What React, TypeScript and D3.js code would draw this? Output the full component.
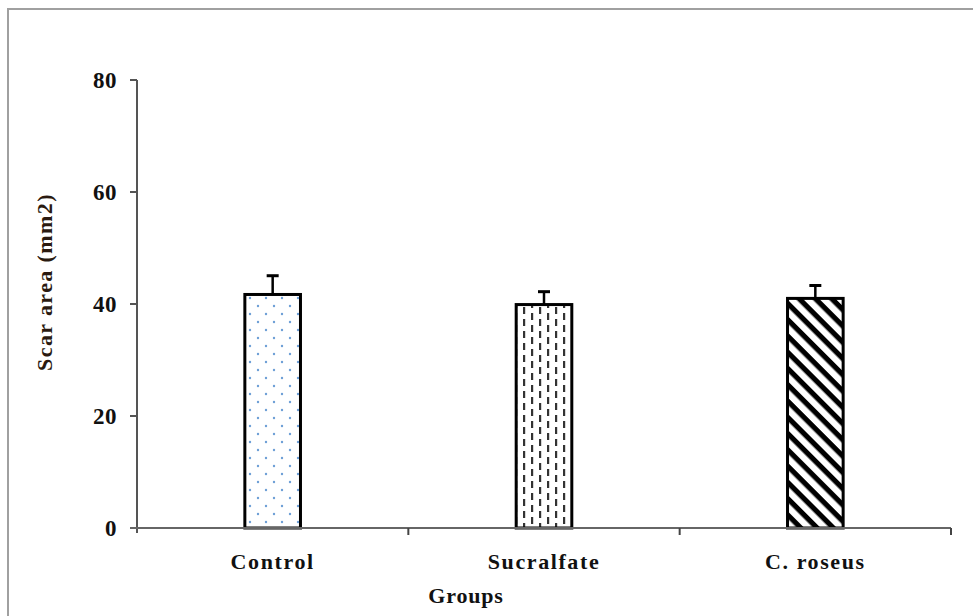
import React from "react";
import * as d3 from "d3";

const categories = ["Control", "Sucralfate", "C. roseus"];
const means = [41.7, 39.9, 41.0];
const errors = [3.35, 2.3, 2.3];
const yTicks = [0, 20, 40, 60, 80];

const W = 973;
const H = 616;
const margin = { left: 137, right: 22, top: 80, bottom: 88 };

export default function App() {
  const x = d3
    .scaleBand<string>()
    .domain(categories)
    .range([margin.left, W - margin.right])
    .paddingInner(0.795)
    .paddingOuter(0.3975);
  const y = d3.scaleLinear().domain([0, 80]).range([H - margin.bottom, margin.top]);
  const x0 = margin.left;
  const x1 = W - margin.right;
  const y0 = y(0);
  const patterns = ["url(#pDots)", "url(#pDash)", "url(#pDiag)"];
  const font = "'Liberation Serif', 'Times New Roman', serif";
  const bandStep = (x1 - x0) / categories.length;

  return (
    <svg
      width={W}
      height={H}
      style={{ position: "absolute", left: 0, top: 0, background: "#fff" }}
      fontFamily={font}
    >
      <defs>
        <pattern id="pDots" width={16} height={16} patternUnits="userSpaceOnUse">
          <rect width={16} height={16} fill="#fff" />
          <circle cx={2} cy={2} r={1.2} fill="#6d9fd6" />
          <circle cx={10} cy={10} r={1.2} fill="#6d9fd6" />
        </pattern>
        <pattern id="pDash" width={16} height={12} patternUnits="userSpaceOnUse">
          <rect width={16} height={12} fill="#fff" />
          <rect x={3} y={1} width={2.2} height={7} fill="#333" />
          <rect x={11} y={7} width={2.2} height={7} fill="#333" />
          <rect x={11} y={-5} width={2.2} height={7} fill="#333" />
        </pattern>
        <pattern
          id="pDiag"
          width={11.5}
          height={11.5}
          patternUnits="userSpaceOnUse"
          patternTransform="rotate(45)"
        >
          <rect width={11.5} height={11.5} fill="#fff" />
          <rect x={0} y={0} width={11.5} height={5.2} fill="#000" />
        </pattern>
      </defs>

      {/* frame */}
      <rect x={8} y={9} width={W + 10} height={H + 10} fill="none" stroke="#a0a0a0" strokeWidth={2} />

      {/* bars */}
      {categories.map((c, i) => {
        const bx = x(c)!;
        const bw = x.bandwidth();
        const top = y(means[i]);
        const cx = bx + bw / 2;
        const ey = y(means[i] + errors[i]);
        return (
          <g key={c}>
            <line x1={cx} x2={cx} y1={top} y2={ey} stroke="#000" strokeWidth={2.5} />
            <line x1={cx - 6} x2={cx + 6} y1={ey} y2={ey} stroke="#000" strokeWidth={3} />
            <rect
              x={bx}
              y={top}
              width={bw}
              height={y0 - top}
              fill={patterns[i]}
              stroke="#000"
              strokeWidth={3}
            />
          </g>
        );
      })}

      {/* y axis */}
      <line x1={x0} x2={x0} y1={y(80)} y2={y0 + 5} stroke="#555" strokeWidth={2} />
      {yTicks.map((t) => (
        <g key={t}>
          <line x1={x0 - 7} x2={x0} y1={y(t)} y2={y(t)} stroke="#555" strokeWidth={2} />
          <text
            x={x0 - 20}
            y={y(t)}
            dy="0.35em"
            textAnchor="end"
            fontSize={23}
            fontWeight="bold"
            letterSpacing={0.5}
            fill="#111"
          >
            {t}
          </text>
        </g>
      ))}

      {/* x axis */}
      <line x1={x0 - 7} x2={x1} y1={y0} y2={y0} stroke="#666" strokeWidth={2} />
      {d3.range(1, categories.length + 1).map((k) => (
        <line
          key={k}
          x1={x0 + k * bandStep}
          x2={x0 + k * bandStep}
          y1={y0}
          y2={y0 + 7}
          stroke="#444"
          strokeWidth={2}
        />
      ))}
      {categories.map((c) => (
        <text
          key={c}
          x={x(c)! + x.bandwidth() / 2}
          y={569}
          textAnchor="middle"
          fontSize={22}
          fontWeight="bold"
          letterSpacing={1.6}
          fill="#111"
        >
          {c}
        </text>
      ))}
      <text x={466} y={603} textAnchor="middle" fontSize={22} fontWeight="bold" letterSpacing={0.8} fill="#111">
        Groups
      </text>
      <text
        transform={`translate(52, 282) rotate(-90)`}
        textAnchor="middle"
        fontSize={22}
        fontWeight="bold"
        letterSpacing={1.4}
        fill="#2a1a10"
      >
        Scar area (mm2)
      </text>
    </svg>
  );
}
